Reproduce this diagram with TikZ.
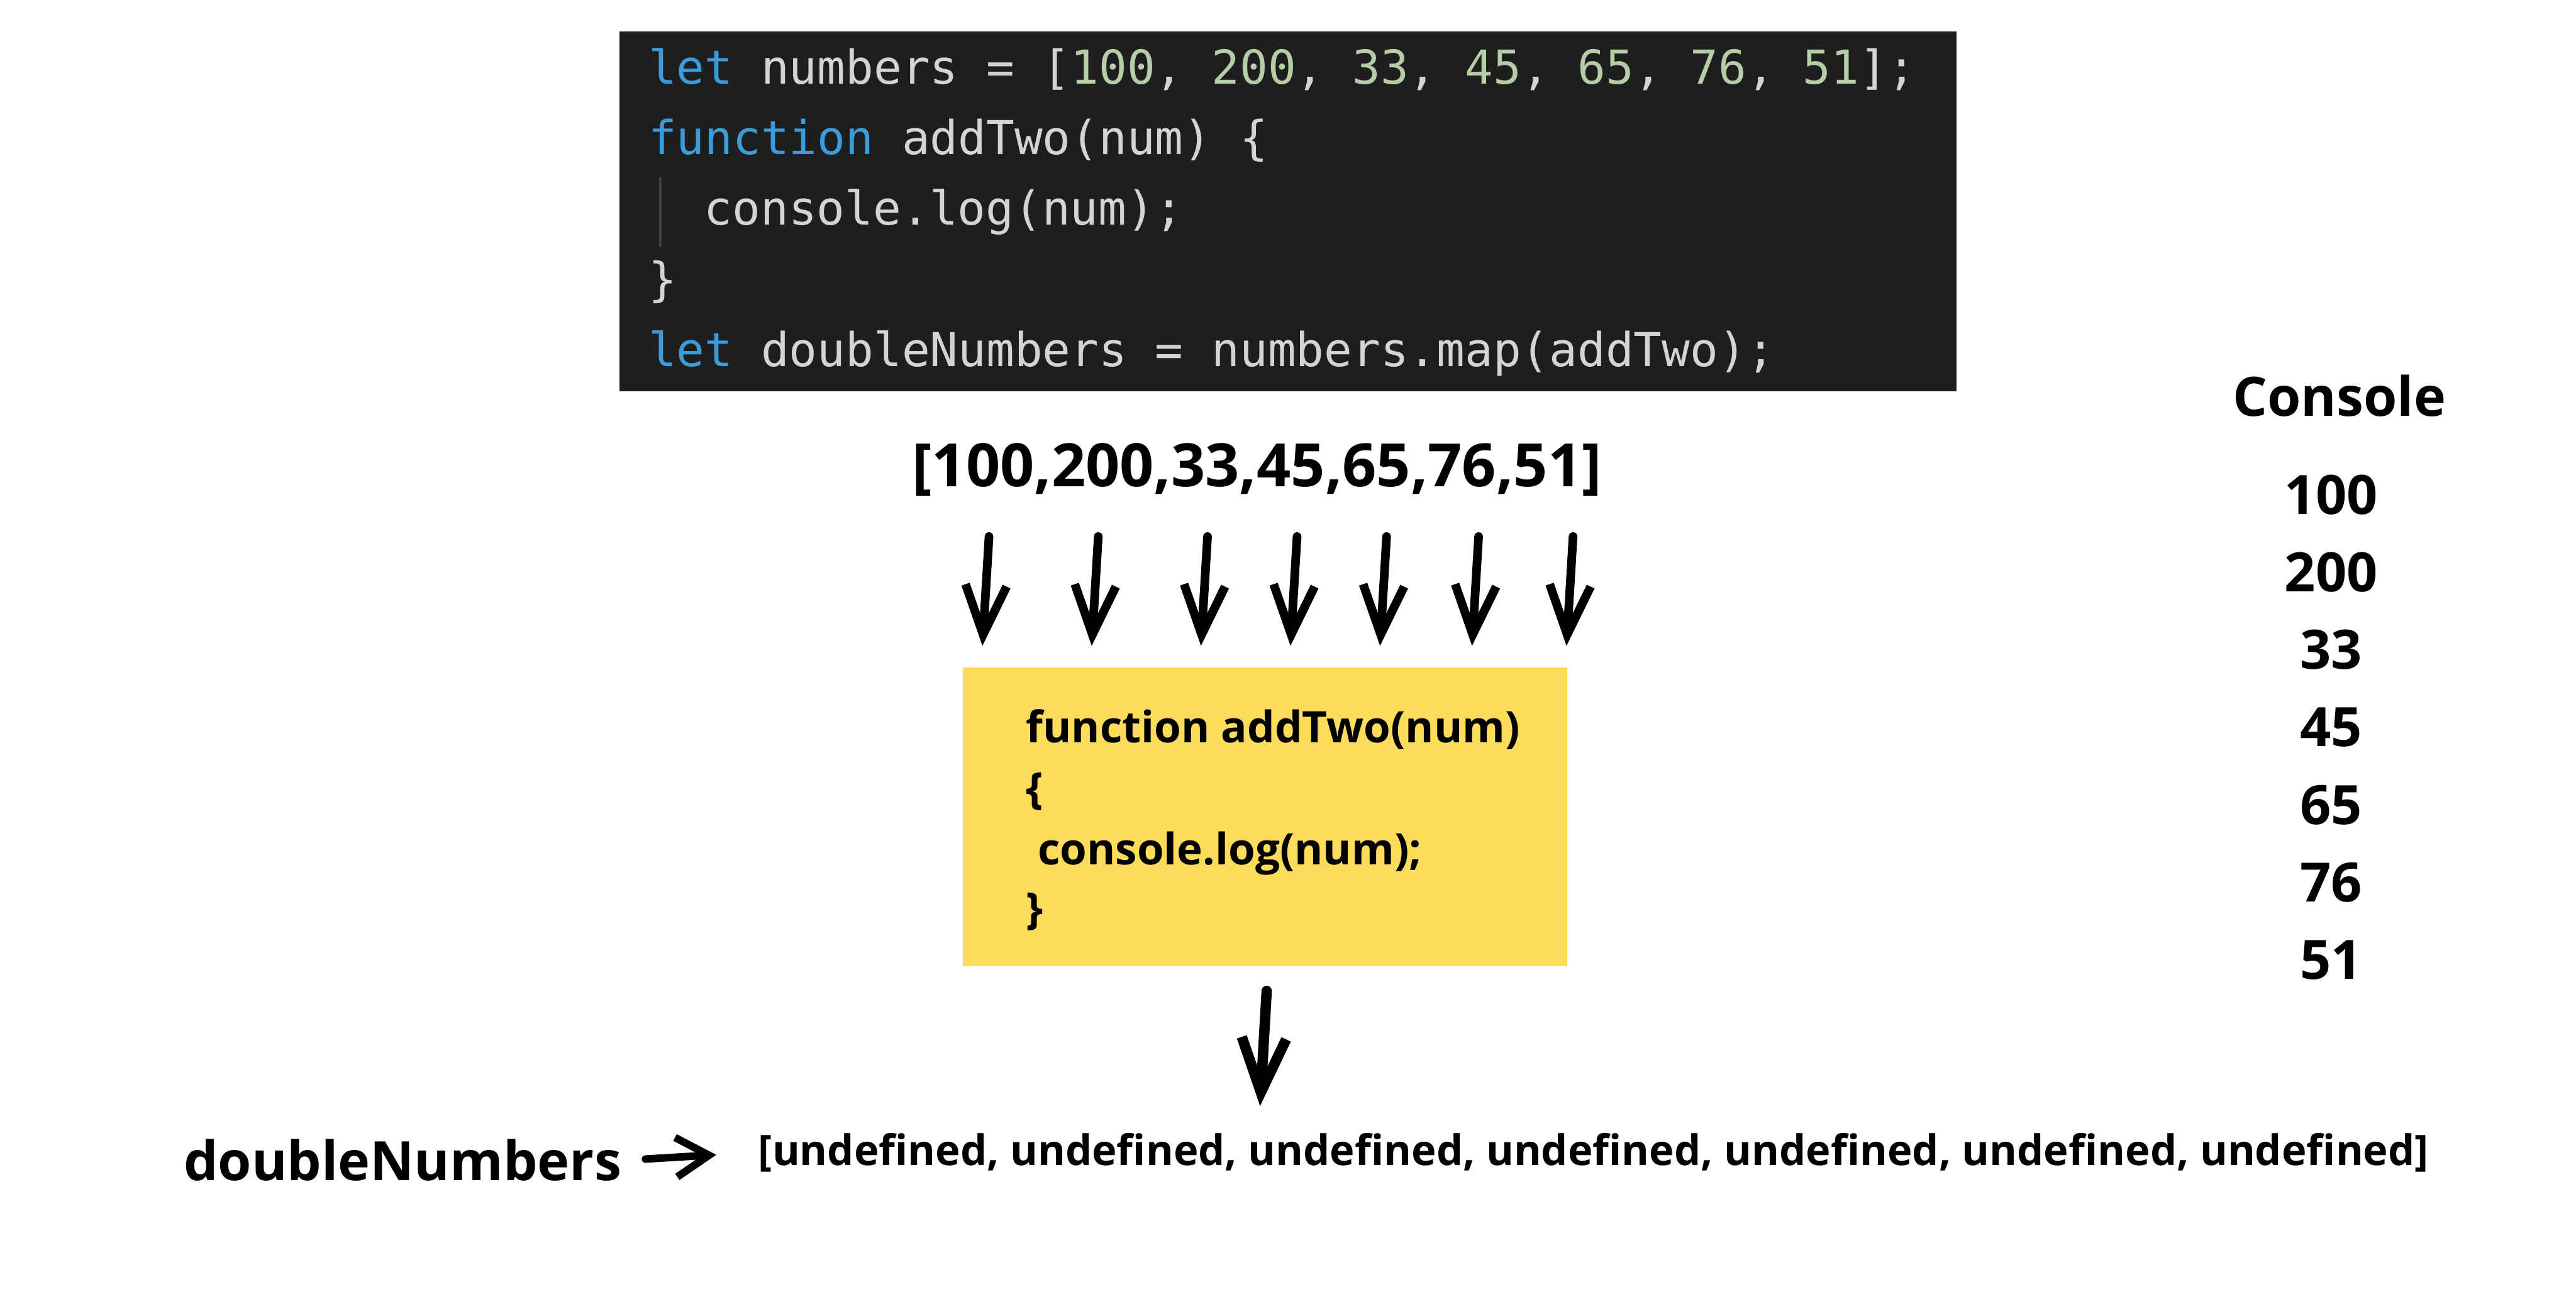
\documentclass[tikz,border=0pt]{standalone}
\usepackage{fontspec}
\setmainfont{Open Sans}
\newfontfamily\codefont{DejaVu Sans Mono}
\usetikzlibrary{arrows.meta}

\definecolor{editorbg}{HTML}{1E1E1E}
\definecolor{kwblue}{HTML}{3C9BD9}
\definecolor{numgreen}{HTML}{B5CEA8}
\definecolor{codegray}{HTML}{D4D4D4}
\definecolor{guidegray}{HTML}{404040}
\definecolor{fnyellow}{HTML}{FDDC5C}

\newcommand{\kw}[1]{\textcolor{kwblue}{#1}}
\newcommand{\nm}[1]{\textcolor{numgreen}{#1}}

\begin{document}
\begin{tikzpicture}[
    editor/.style={rectangle, fill=editorbg, minimum width=8.14cm, minimum height=2.19cm, inner sep=0},
    codeline/.style={anchor=base west, inner sep=0, text=codegray, font=\codefont\fontsize{8.1pt}{10pt}\selectfont},
    fnbox/.style={rectangle, fill=fnyellow, minimum width=3.68cm, minimum height=1.82cm, inner sep=0},
    fnline/.style={anchor=base west, inner sep=0, font=\bfseries\fontsize{7.52pt}{9pt}\selectfont},
    conslabel/.style={inner sep=0, font=\bfseries\fontsize{9.4pt}{11pt}\selectfont},
    hand/.style={line width=1.5pt, line cap=round, -{Straight Barb[length=3mm, width=2.5mm, line width=1.5pt]}},
    bighand/.style={line width=1.8pt, line cap=round, -{Straight Barb[length=3.3mm, width=2.7mm, line width=1.8pt]}},
    smallhand/.style={line width=1.3pt, line cap=round, -{Straight Barb[length=2mm, width=2.4mm, line width=1.3pt]}}
]
\path[fill=white, use as bounding box] (0,0) rectangle (15.68,7.84);

% --- Editor ---
\node[editor] (ed) at (7.84, 6.555) {};
\draw[guidegray, line width=0.4pt] (4.02, 6.76) -- (4.02, 6.34);
\node[codeline] (c1) at (3.94, 7.33) {\kw{let} numbers = [\nm{100}, \nm{200}, \nm{33}, \nm{45}, \nm{65}, \nm{76}, \nm{51}];};
\node[codeline] (c2) at (3.94, 6.90) {\kw{function} addTwo(num) \{};
\node[codeline] (c3) at (4.28, 6.47) {console.log(num);};
\node[codeline] (c4) at (3.94, 6.04) {\}};
\node[codeline] (c5) at (3.94, 5.61) {\kw{let} doubleNumbers = numbers.map(addTwo);};

% --- Input array ---
\node[inner sep=0, anchor=base, font=\bfseries\fontsize{10.35pt}{12pt}\selectfont] (nums) at (7.65, 4.88) {[100,200,33,45,65,76,51]};

\foreach \x [count=\i] in {5.98, 6.645, 7.31, 7.855, 8.40, 8.96, 9.535} {
    \coordinate (t\i) at (\x+0.04, 4.575);
    \coordinate (h\i) at (\x, 3.91);
    \draw[hand] (t\i) -- (h\i);
}

% --- Callback ---
\node[fnbox] (fn) at (7.70, 2.87) {};
\node[fnline] (f1) at (6.24, 3.32) {function addTwo(num)};
\node[fnline] (f2) at (6.24, 2.95) {\{};
\node[fnline] (f3) at (6.31, 2.58) {console.log(num);};
\node[fnline] (f4) at (6.24, 2.22) {\}};

\coordinate (o1) at (7.71, 1.81);
\coordinate (o2) at (7.67, 1.11);
\draw[bighand] (o1) -- (o2);

% --- Console ---
\node[conslabel] (cons) at (14.24, 5.43) {Console};
\foreach \v [count=\i from 0] in {100, 200, 33, 45, 65, 76, 51}
    \node[conslabel] (v\i) at (14.19, 4.83-0.472*\i) {\v};

% --- Result ---
\node[conslabel, anchor=base] (dn) at (2.45, 0.655) {doubleNumbers};
\node[inner sep=0, anchor=base, font=\bfseries\fontsize{7.28pt}{9pt}\selectfont] (res) at (9.70, 0.75)
    {[undefined, undefined, undefined, undefined, undefined, undefined, undefined]};
\draw[smallhand, shorten <=0.14cm, shorten >=0.25cm] (dn.east) -- (res.west);

\end{tikzpicture}
\end{document}
